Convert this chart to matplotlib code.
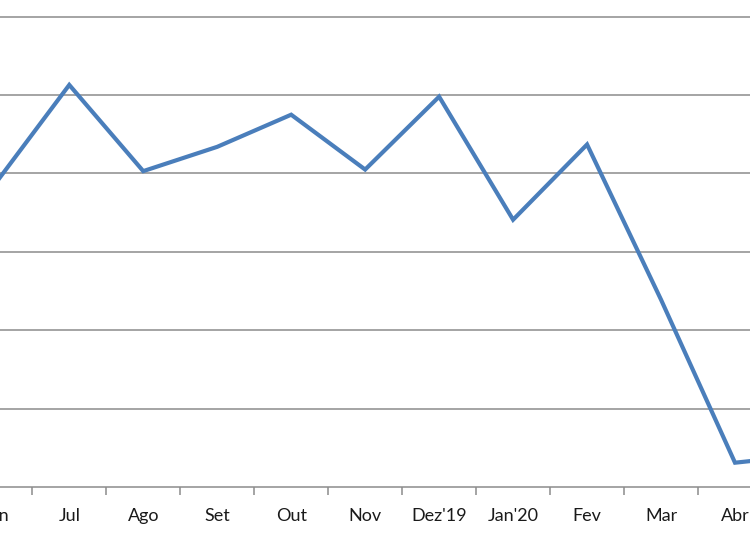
import matplotlib
matplotlib.use("Agg")
import matplotlib.pyplot as plt
from matplotlib.ticker import FixedLocator

# Data (units read relative to gridline spacing; y labels are not visible)
months = ["Jun", "Jul", "Ago", "Set", "Out", "Nov", "Dez'19", "Jan'20", "Fev", "Mar", "Abr", "Mai"]
values = [3.87, 5.13, 4.03, 4.34, 4.75, 4.05, 4.98, 3.41, 4.37, 2.39, 0.31, 0.41]
grid_levels = [0, 1, 2, 3, 4, 5, 6]

W, H = 750, 536
fig = plt.figure(figsize=(W / 100, H / 100), dpi=100)

# Plot area is cropped by the figure edges (as in the reference)
step = 73.97
x0_px = -4.7 - 0.5 * step
x1_px = -4.7 + (len(months) - 0.5) * step
ytop = 6.2
unit = 78.38
bottom_px = 487
ax = fig.add_axes([x0_px / W, (H - bottom_px) / H, (x1_px - x0_px) / W, ytop * unit / H])

x = list(range(len(months)))
ax.plot(x, values, color="#4A7EBB", linewidth=3.0, solid_joinstyle="miter", zorder=3)

ax.set_xlim(-0.5, len(months) - 0.5)
ax.set_ylim(0, ytop)

# gridlines
for g in grid_levels[1:]:
    ax.axhline(g, color="#8C8C8C", linewidth=1.1, zorder=1)

for s in ["left", "top", "right"]:
    ax.spines[s].set_visible(False)
ax.spines["bottom"].set_color("#8C8C8C")
ax.spines["bottom"].set_linewidth(1.1)

ax.set_yticks([])
ax.xaxis.set_major_locator(FixedLocator(x))
ax.set_xticklabels(months, fontsize=13, family=["Lato", "DejaVu Sans"], color="#1A1A1A")
ax.tick_params(axis="x", which="major", length=0, pad=15)
ax.xaxis.set_minor_locator(FixedLocator([i + 0.5 for i in range(-1, len(months))]))
ax.tick_params(axis="x", which="minor", length=6, color="#8C8C8C", width=1.1, direction="out")

fig.savefig("out.png", dpi=100)
